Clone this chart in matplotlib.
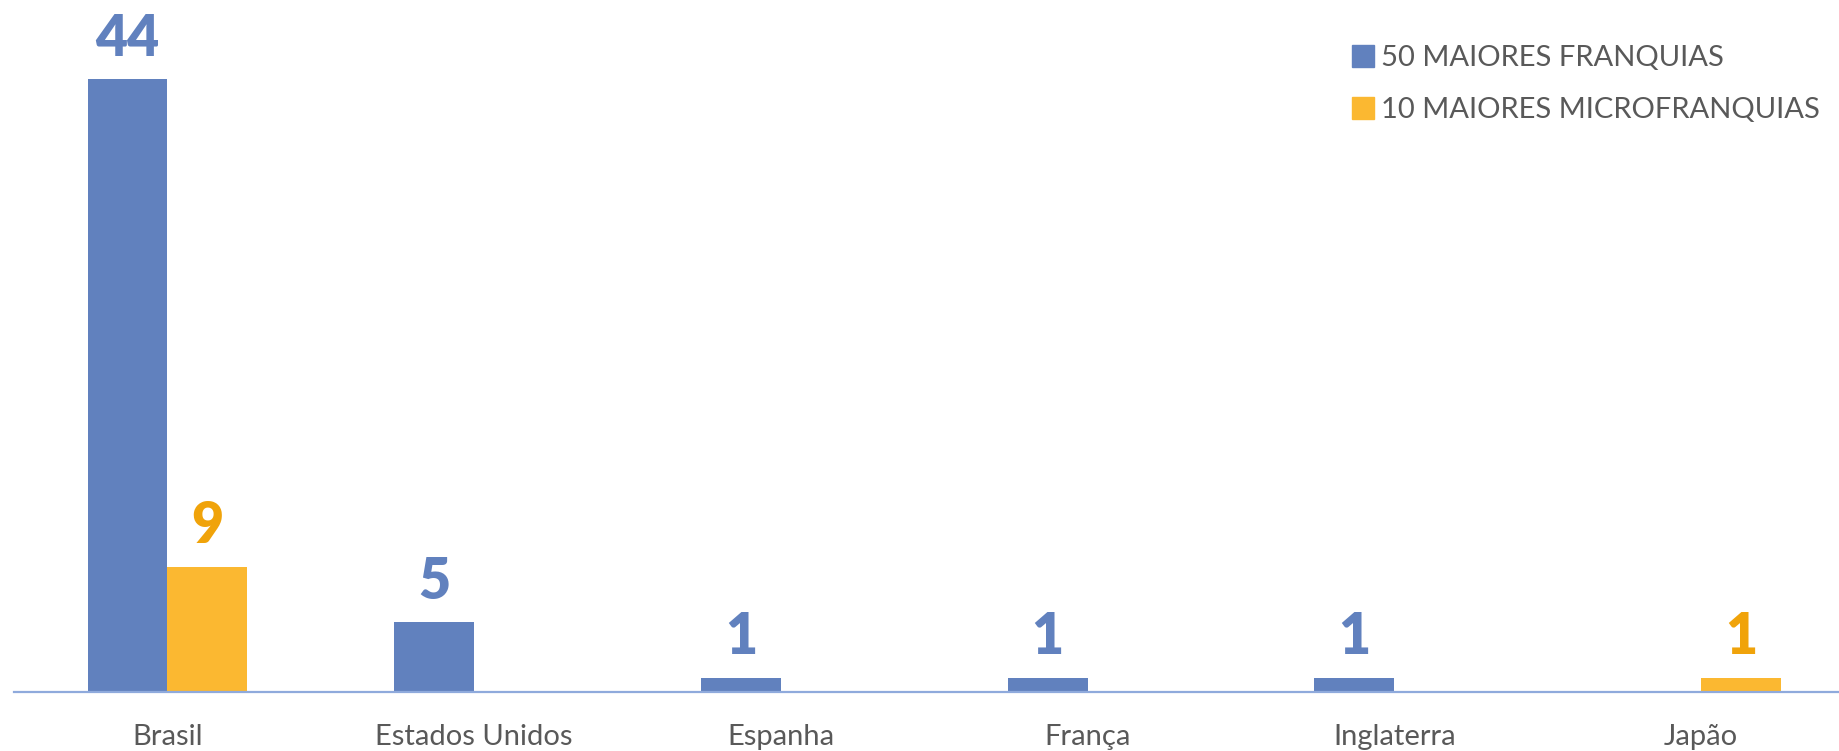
import matplotlib.pyplot as plt
import numpy as np
from matplotlib.patches import Patch

plt.rcParams['font.family'] = ['Lato', 'DejaVu Sans']

paises = ["Brasil", "Estados Unidos", "Espanha", "França", "Inglaterra", "Japão"]
franquias = [44, 5, 1, 1, 1, 0]
microfranquias = [9, 0, 0, 0, 0, 1]
series_names = ["50 MAIORES FRANQUIAS", "10 MAIORES MICROFRANQUIAS"]

azul = "#6181BE"
amarelo = "#FBB831"
amarelo_txt = "#F0A30A"
cinza = "#595959"

fig = plt.figure(figsize=(18.39, 7.51), dpi=100)
ax = fig.add_axes([0.0076, 0.0786, 0.9924, 0.9214])

x = np.arange(len(paises))
w = 0.26
b1 = ax.bar(x - w / 2, franquias, w, color=azul)
b2 = ax.bar(x + w / 2, microfranquias, w, color=amarelo)

# rotulos de valor, so onde ha barra
for bars, vals, cor in [(b1, franquias, azul), (b2, microfranquias, amarelo_txt)]:
    for rect, v in zip(bars, vals):
        if v == 0:
            rect.set_visible(False)
            continue
        ax.annotate(str(v), (rect.get_x() + rect.get_width() / 2, v),
                    xytext=(0, 17), textcoords="offset points",
                    ha="center", va="baseline", fontsize=40,
                    fontweight="heavy", color=cor)

ax.set_xlim(-0.5, 5.45)
ax.set_ylim(0, 49.7)
ax.set_xticks(x)
ax.set_xticklabels(paises, fontsize=21, color=cinza)
ax.tick_params(axis="x", length=0, pad=23)
ax.set_yticks([])
for s in ["top", "right", "left"]:
    ax.spines[s].set_visible(False)
ax.spines["bottom"].set_color("#8FAADC")
ax.spines["bottom"].set_linewidth(1.6)

handles = [Patch(color=azul), Patch(color=amarelo)]
fig.legend(handles, series_names, loc="upper left", bbox_to_anchor=(0.721, 0.975),
           frameon=False, fontsize=21, labelcolor=cinza, handlelength=0.75,
           handleheight=0.75, handletextpad=0.25, labelspacing=0.9)

plt.savefig("out.png", dpi=100)
